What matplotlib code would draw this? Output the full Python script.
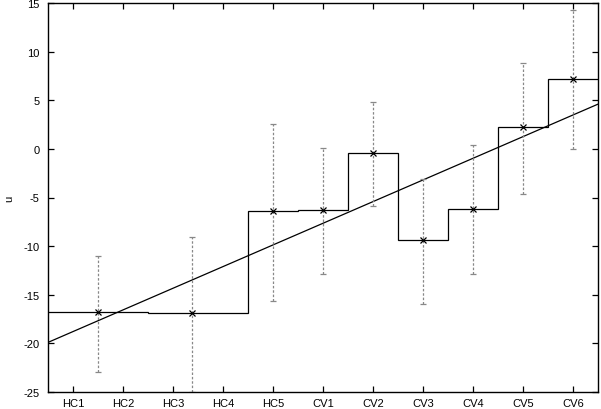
import matplotlib
matplotlib.use("Agg")
import matplotlib.pyplot as plt
import numpy as np

plt.rcParams['font.family'] = ['Liberation Sans', 'DejaVu Sans']
plt.rcParams['axes.unicode_minus'] = False

# categories (tick labels at x = 1..11)
categories = ["HC1", "HC2", "HC3", "HC4", "HC5", "CV1", "CV2", "CV3", "CV4", "CV5", "CV6"]

# step series (one value per category)
step_values = [-16.8, -16.8, -16.9, -16.9, -6.4, -6.3, -0.4, -9.4, -6.2, 2.2, 7.2]

# points with error bars
pt_x = [1.5, 3.37, 5, 6, 7, 8, 9, 10, 11]
pt_y = [-16.8, -16.9, -6.4, -6.3, -0.4, -9.4, -6.2, 2.2, 7.2]
pt_low = [-22.9, -25.0, -15.6, -12.9, -5.85, -15.9, -12.9, -4.6, 0.0]
pt_high = [-11.0, -9.1, 2.6, 0.1, 4.85, -3.1, 0.35, 8.85, 14.3]

# linear fit line endpoints
fit_x = [0.5, 11.5]
fit_y = [-19.9, 4.6]

fig = plt.figure(figsize=(6.01, 4.10), dpi=100)
ax = fig.add_axes([48/601, 1 - 393/410, 550/601, 389/410])

xs = np.arange(1, len(categories) + 1)
edges = np.concatenate([[xs[0] - 0.5], xs + 0.5])
ax.stairs(step_values, edges, color='black', lw=0.9, baseline=None)

ax.plot(fit_x, fit_y, color='black', lw=0.9)

yerr = [np.array(pt_y) - np.array(pt_low), np.array(pt_high) - np.array(pt_y)]
eb = ax.errorbar(pt_x, pt_y, yerr=yerr, fmt='none', ecolor='#888888',
                 elinewidth=0.9, capsize=2.5, capthick=0.9)
eb[2][0].set_linestyle((0, (2, 1.5)))
ax.plot(pt_x, pt_y, linestyle='none', marker='x', color='black', ms=4.5, mew=0.9)

ax.set_xlim(0.5, 11.5)
ax.set_ylim(-25, 15)
ax.set_xticks(xs)
ax.set_xticklabels(categories)
ax.set_yticks(np.arange(-25, 16, 5))
ax.tick_params(direction='in', top=True, right=True, length=4, width=0.9,
               labelsize=8)
ax.tick_params(axis='x', pad=4)
ax.tick_params(axis='y', pad=6)
ax.set_ylabel('u', fontsize=8)
ax.yaxis.set_label_coords(-0.062, 0.5)
for s in ax.spines.values():
    s.set_linewidth(1.0)

fig.savefig('out.png', dpi=100)
